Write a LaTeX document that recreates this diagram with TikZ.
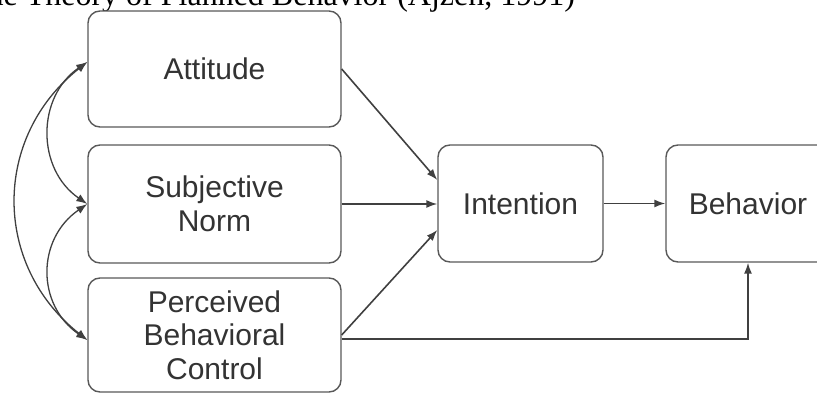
\documentclass[tikz,border=0pt]{standalone}
\usepackage{fontspec}
\setmainfont{Liberation Serif}
\setsansfont{Liberation Sans}
\usetikzlibrary{arrows.meta}
\tikzset{
tpbbox/.style={draw=black!65,line width=1.4pt,rounded corners=12pt,fill=white,inner sep=0pt,align=center,text=black!80,font=\sffamily\fontsize{30}{33.5}\selectfont},
tpbarrow/.style={draw=black!75,line width=1.6pt,-{Latex[length=11pt,width=8pt]}},
tpbboth/.style={draw=black!75,line width=1.3pt,{Latex[length=11pt,width=8pt]}-{Latex[length=11pt,width=8pt]}}
}

\begin{document}
\begin{tikzpicture}[x=1pt,y=1pt]
\useasboundingbox (0,0) rectangle (817,-393);
\clip (0,0) rectangle (817,-393);
\node (title) at (-35.5,-5.5) [anchor=base west,font=\rmfamily\fontsize{32}{36}\selectfont] {The Theory of Planned Behavior (Ajzen, 1991)};
\node (att) at (214.5,-69) [tpbbox,minimum width=253pt,minimum height=116pt] {Attitude};
\node (sn) at (214.5,-204) [tpbbox,minimum width=253pt,minimum height=118pt] {Subjective\\Norm};
\node (pbc) at (214.5,-335) [tpbbox,minimum width=253pt,minimum height=114pt] {Perceived\\Behavioral\\Control};
\node (int) at (520.5,-203.5) [tpbbox,minimum width=165pt,minimum height=117pt] {Intention};
\node (beh) at (748,-203.5) [tpbbox,minimum width=164pt,minimum height=117pt] {Behavior};
\coordinate (attin) at ([yshift=7pt]att.west);
\coordinate (pbcin) at ([yshift=-5pt]pbc.west);

% correlations on the left
\draw[tpbboth] (attin) .. controls +(-51,-35) and +(-51,35) .. (sn.west);
\draw[tpbboth] (sn.west) .. controls +(-51,-35) and +(-51,35) .. (pbcin);
\draw[tpbboth] (attin) .. controls +(-95,-75) and +(-95,75) .. (pbcin);

\draw[tpbarrow] (att.east) -- ([yshift=23.5pt]int.west);
\draw[tpbarrow] (sn.east) -- (sn.east -| int.west);
\draw[tpbarrow] (pbc.east) -- ([yshift=-26.5pt]int.west);
\draw[tpbarrow] (int.east) -- (int.east -| beh.west);
\draw[tpbarrow] ([yshift=-4pt]pbc.east) -| (beh.south);

\end{tikzpicture}
\end{document}
